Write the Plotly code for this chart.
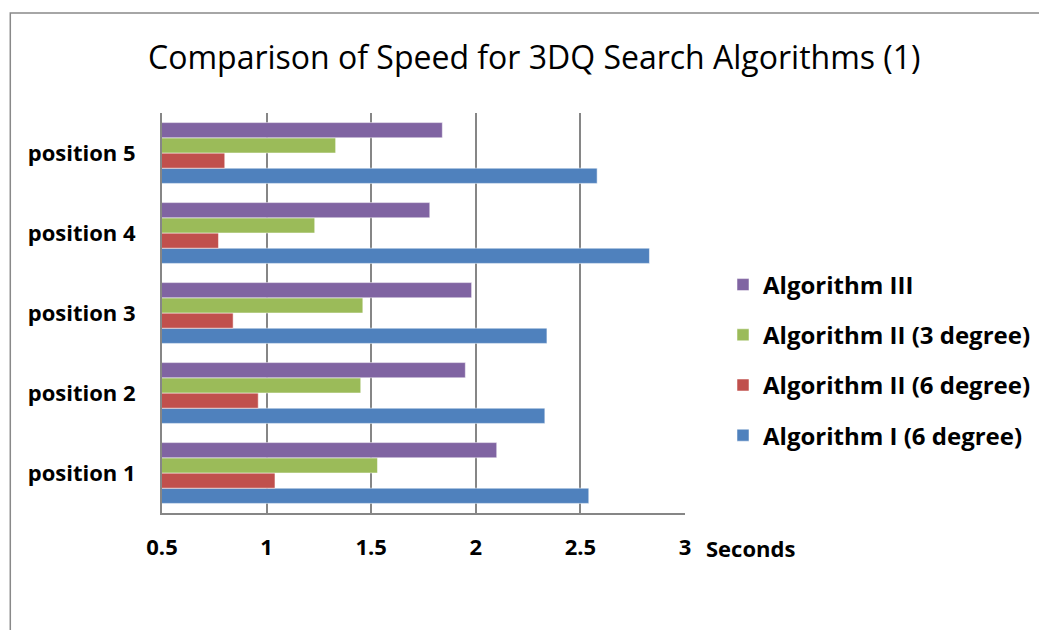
import plotly.graph_objects as go

categories = ["position 1", "position 2", "position 3", "position 4", "position 5"]
series_names = ["Algorithm I (6 degree)", "Algorithm II (6 degree)", "Algorithm II (3 degree)", "Algorithm III"]
alg1_6 = [2.54, 2.33, 2.34, 2.83, 2.58]
alg2_6 = [1.04, 0.96, 0.84, 0.77, 0.80]
alg2_3 = [1.53, 1.45, 1.46, 1.23, 1.33]
alg3 = [2.10, 1.95, 1.98, 1.78, 1.84]
colors = ["#4F81BD", "#C0504D", "#9BBB59", "#8064A2"]
x_ticks = [0.5, 1, 1.5, 2, 2.5, 3]

FONT = "Open Sans"
fig = go.Figure()
for i, (name, vals) in enumerate(zip(series_names, [alg1_6, alg2_6, alg2_3, alg3])):
    fig.add_trace(go.Bar(
        y=categories, x=vals, name=name, orientation="h",
        marker=dict(color=colors[i], line=dict(color="rgba(255,255,255,0.5)", width=1)),
        legendgroup=f"g{i}", legendrank=4 - i,
    ))

L, T, PW, PH = 154, 105, 524, 400
W, H = 1039, 622

fig.update_layout(
    width=W, height=H,
    paper_bgcolor="white", plot_bgcolor="white",
    barmode="group", bargap=0.24, bargroupgap=0,
    margin=dict(l=L, r=W - L - PW, t=T, b=H - T - PH),
    title=dict(text="Comparison of Speed for 3DQ Search Algorithms (1)",
               x=(535 - 162) / PW, xref="paper", xanchor="center",
               y=1 - 50 / H, yanchor="middle",
               font=dict(family=FONT, size=32, color="black")),
    font=dict(family=FONT, color="black"),
    legend=dict(x=(723 - 162) / PW, xanchor="left", y=1 - (360 - 113) / PH, yanchor="middle",
                traceorder="grouped", tracegroupgap=16,
                font=dict(family=FONT, size=24, color="black", weight="bold"),
                itemwidth=30, bgcolor="rgba(0,0,0,0)"),
    xaxis=dict(range=[0.5, 3], tickvals=x_ticks, ticktext=[str(v) for v in x_ticks],
               showgrid=True, gridcolor="#868686", gridwidth=2,
               showline=True, linecolor="#868686", linewidth=2,
               ticks="", ticklabelstandoff=14, zeroline=False,
               tickfont=dict(family=FONT, size=22, color="black", weight="bold")),
    yaxis=dict(showgrid=False, showline=True, linecolor="#868686", linewidth=2,
               ticks="", ticklabelstandoff=20,
               tickfont=dict(family=FONT, size=22, color="black", weight="bold")),
    shapes=[dict(type="rect", xref="paper", yref="paper",
                 x0=-152 / PW, x1=1.8, y0=-1.0, y1=1 + 100 / PH,
                 line=dict(color="#898989", width=1.5), fillcolor="rgba(0,0,0,0)",
                 layer="below")],
    annotations=[dict(text="Seconds", xref="paper", yref="paper",
                      x=(705 - 162) / PW, xanchor="left",
                      y=-35 / PH, yanchor="middle", showarrow=False,
                      font=dict(family=FONT, size=22, color="black", weight="bold"))],
)

fig.write_html("out.html")
